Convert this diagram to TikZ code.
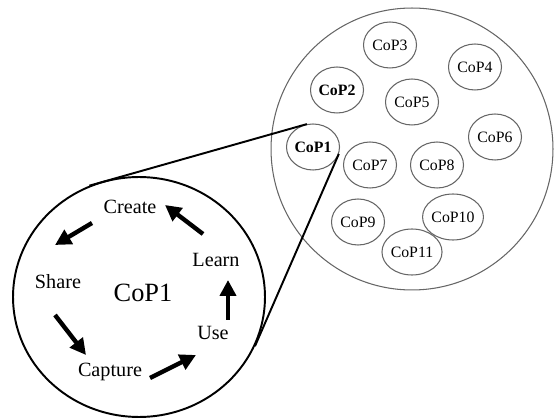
\documentclass[tikz,border=0pt]{standalone}
\usepackage{fontspec}
\setmainfont{Liberation Serif}
\usetikzlibrary{arrows.meta, positioning, shapes.geometric, calc}

\begin{document}
\begin{tikzpicture}[
      x=0.02cm, y=-0.02cm,
      community/.style={draw=black!60, line width=0.6pt, circle, minimum size=5.64cm, inner sep=0pt},
      cop/.style={draw=black!60, line width=0.6pt, ellipse, minimum width=1.06cm, minimum height=0.92cm, inner sep=0pt, font=\fontsize{9}{11}\selectfont},
      zoomed/.style={draw=black, line width=1.1pt, ellipse, minimum width=5.04cm, minimum height=4.8cm, inner sep=0pt},
      stage/.style={inner sep=0pt, font=\fontsize{11.5}{14}\selectfont},
      flow/.style={-{Triangle[length=0.32cm, width=0.32cm]}, line width=2.5pt, draw=black},
      zoomline/.style={draw=black, line width=1.1pt}
    ]
      \useasboundingbox (0,0) rectangle (554,418);

      % Community of practice, holding all the CoPs
      \node[community] (network) at (412,149) {};

      % The CoPs inside the community
      \node[cop, font=\fontsize{9}{11}\selectfont\bfseries] (cop1) at (313,147) {CoP1};
      \node[cop, font=\fontsize{9}{11}\selectfont\bfseries] (cop2) at (337,90) {CoP2};
      \foreach \n/\px/\py in {3/390/45, 4/475/67, 5/412/102, 6/495/137, 7/370/165, 8/437/165, 9/358/222, 10/453/217, 11/412/252} {
        \node[cop] (cop\n) at (\px,\py) {CoP\n};
      }

      % Enlarged view of CoP1
      \node[zoomed] (zoom) at (139,297) {};
      \node[font=\fontsize{15}{18}\selectfont] (title) at (143,293) {CoP1};

      % Stages of the knowledge cycle
      \node[stage] (create) at (130,207) {Create};
      \node[stage] (learn) at (216,260) {Learn};
      \node[stage] (share) at (58,282) {Share};
      \node[stage] (use) at (213,333) {Use};
      \node[stage] (capture) at (110,372) {Capture};

      % Lines from the enlarged view to CoP1
      \draw[zoomline] (zoom.114) -- (cop1.105);
      \draw[zoomline] (zoom.-23) -- (cop1.-15);

      % Arrows round the cycle
      \draw[flow] ([shift={(-13,-26)}]learn.center) -- ([shift={(35,-2)}]create.center);
      \draw[flow] ([shift={(-38,16)}]create.center) -- ([shift={(-3,-37)}]share.center);
      \draw[flow] ([shift={(-3,33)}]share.center) -- ([shift={(-24,-17)}]capture.center);
      \draw[flow] ([shift={(40,6)}]capture.center) -- ([shift={(-17,22)}]use.center);
      \draw[flow] ([shift={(15,-13)}]use.center) -- ([shift={(12,20)}]learn.center);
    \end{tikzpicture}
\end{document}
